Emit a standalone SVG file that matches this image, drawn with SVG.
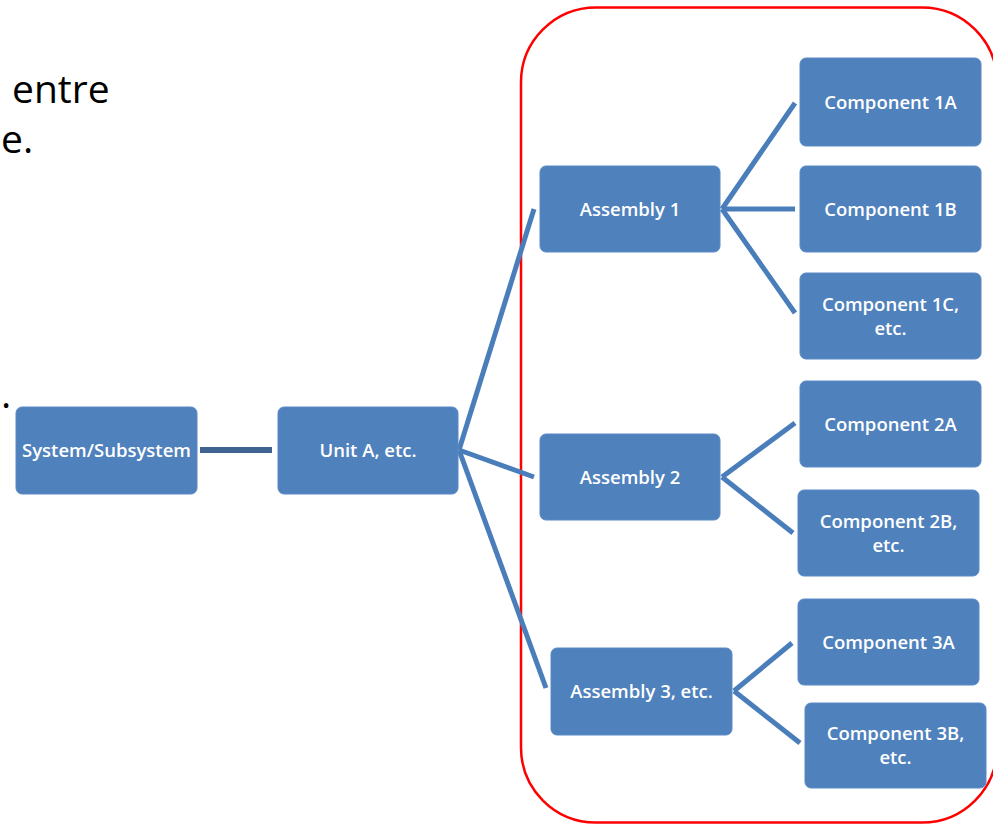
<svg xmlns="http://www.w3.org/2000/svg" width="993" height="825" viewBox="0 0 993 825">
  <style>
    .box { fill: #4F81BD; stroke: #5A8AC6; stroke-width: 1; }
    .lbl { fill: #FFFFFF; font-family: "Open Sans", "Liberation Sans", sans-serif; font-size: 18.5px; font-weight: 600; text-anchor: middle; }
    .slide { fill: #000000; font-family: "Open Sans", "Liberation Sans", sans-serif; font-size: 39px; }
    .conn { stroke: #4A7EBB; stroke-width: 5; fill: none; stroke-linecap: butt; }
    .conn-dark { stroke: #3F6390; stroke-width: 6; fill: none; }
  </style>
  <rect width="993" height="825" fill="#FFFFFF"/>

  <g id="slide-text">
    <text class="slide" x="12" y="103">entre</text>
    <text class="slide" x="1" y="153">e.</text>
    <text class="slide" x="1" y="408">.</text>
  </g>

  <rect id="highlight" x="521" y="7.5" width="476" height="815" rx="75" ry="75" fill="none" stroke="#FF0000" stroke-width="2.5"/>

  <g id="connectors">
    <line class="conn-dark" x1="200" y1="450" x2="272" y2="450"/>
    <line class="conn" x1="459" y1="450" x2="534" y2="209"/>
    <line class="conn" x1="459" y1="450" x2="534" y2="477"/>
    <line class="conn" x1="459" y1="450" x2="546" y2="688"/>
    <line class="conn" x1="722" y1="209" x2="795" y2="103"/>
    <line class="conn" x1="722" y1="209" x2="795" y2="209"/>
    <line class="conn" x1="722" y1="209" x2="795" y2="313"/>
    <line class="conn" x1="722" y1="477" x2="795" y2="423"/>
    <line class="conn" x1="722" y1="477" x2="793" y2="533"/>
    <line class="conn" x1="734" y1="691" x2="792" y2="643"/>
    <line class="conn" x1="734" y1="691" x2="800" y2="743"/>
  </g>

  <g id="system">
    <rect class="box" x="16" y="407" width="181" height="87" rx="6"/>
    <text class="lbl" x="106.5" y="457">System/Subsystem</text>
  </g>
  <g id="unit-a">
    <rect class="box" x="278" y="407" width="180" height="87" rx="6"/>
    <text class="lbl" x="368" y="457">Unit A, etc.</text>
  </g>
  <g id="assembly-1">
    <rect class="box" x="540" y="166" width="180" height="86" rx="6"/>
    <text class="lbl" x="630" y="216">Assembly 1</text>
  </g>
  <g id="assembly-2">
    <rect class="box" x="540" y="434" width="180" height="86" rx="6"/>
    <text class="lbl" x="630" y="484">Assembly 2</text>
  </g>
  <g id="assembly-3">
    <rect class="box" x="551" y="648" width="181" height="87" rx="6"/>
    <text class="lbl" x="641.5" y="698">Assembly 3, etc.</text>
  </g>
  <g id="component-1a">
    <rect class="box" x="800" y="58" width="181" height="88" rx="6"/>
    <text class="lbl" x="890.5" y="109">Component 1A</text>
  </g>
  <g id="component-1b">
    <rect class="box" x="800" y="166" width="181" height="86" rx="6"/>
    <text class="lbl" x="890.5" y="216">Component 1B</text>
  </g>
  <g id="component-1c">
    <rect class="box" x="800" y="273" width="181" height="86" rx="6"/>
    <text class="lbl" x="890.5" y="311">Component 1C,</text>
    <text class="lbl" x="890.5" y="335">etc.</text>
  </g>
  <g id="component-2a">
    <rect class="box" x="800" y="381" width="181" height="86" rx="6"/>
    <text class="lbl" x="890.5" y="431">Component 2A</text>
  </g>
  <g id="component-2b">
    <rect class="box" x="798" y="490" width="181" height="86" rx="6"/>
    <text class="lbl" x="888.5" y="528">Component 2B,</text>
    <text class="lbl" x="888.5" y="552">etc.</text>
  </g>
  <g id="component-3a">
    <rect class="box" x="798" y="599" width="181" height="86" rx="6"/>
    <text class="lbl" x="888.5" y="649">Component 3A</text>
  </g>
  <g id="component-3b">
    <rect class="box" x="805" y="703" width="181" height="85" rx="6"/>
    <text class="lbl" x="895.5" y="740">Component 3B,</text>
    <text class="lbl" x="895.5" y="764">etc.</text>
  </g>
</svg>
